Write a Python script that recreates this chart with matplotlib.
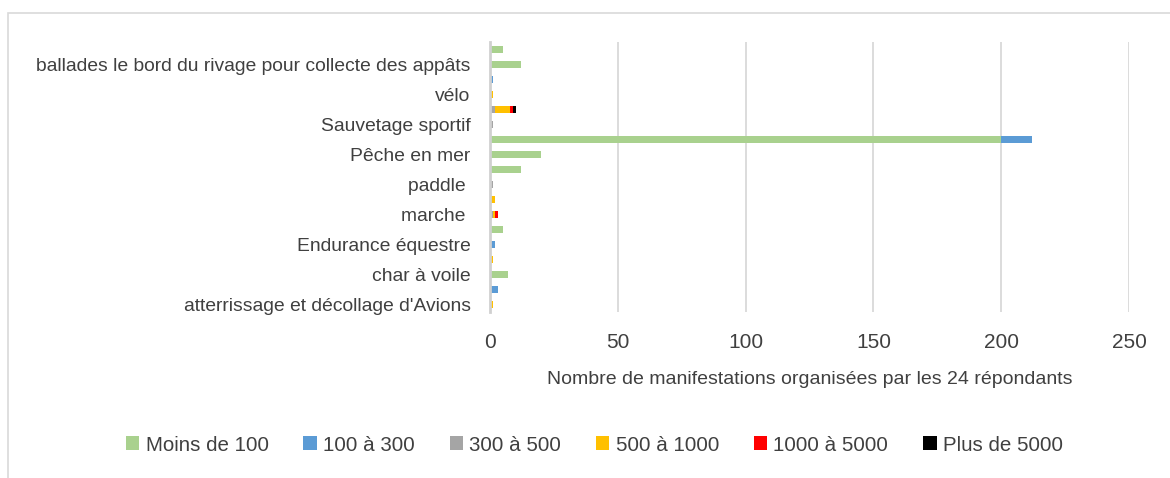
import numpy as np
import matplotlib.pyplot as plt
from matplotlib.patches import Rectangle

# ------------------------------
# Data (bottom to top, as drawn)
# ------------------------------
categories = ["atterrissage et décollage d'Avions", "", "char à voile", "",
              "Endurance équestre", "", "marche ", "", "paddle ", "",
              "Pêche en mer", "", "Sauvetage sportif", "", "vélo", "",
              "ballades le bord du rivage pour collecte des appâts", ""]

series_names = ["Moins de 100", "100 à 300", "300 à 500",
                "500 à 1000", "1000 à 5000", "Plus de 5000"]

moins_100 = [0, 0, 7, 0, 0, 5, 0, 0, 0, 12, 20, 200, 0, 0, 0, 0, 12, 5]
de_100_300 = [0, 3, 0, 0, 2, 0, 0, 0, 0, 0, 0, 12, 0, 0, 0, 1, 0, 0]
de_300_500 = [0, 0, 0, 0, 0, 0, 1, 0, 1, 0, 0, 0, 1, 2, 0, 0, 0, 0]
de_500_1000 = [1, 0, 0, 1, 0, 0, 1, 2, 0, 0, 0, 0, 0, 6, 1, 0, 0, 0]
de_1000_5000 = [0, 0, 0, 0, 0, 0, 1, 0, 0, 0, 0, 0, 0, 1, 0, 0, 0, 0]
plus_5000 = [0, 0, 0, 0, 0, 0, 0, 0, 0, 0, 0, 0, 0, 1, 0, 0, 0, 0]

colors = ["#a9d18e", "#5b9bd5", "#a5a5a5", "#ffc000", "#ff0000", "#000000"]

xticks = [0, 50, 100, 150, 200, 250]

# ------------------------------
# Plot
# ------------------------------
plt.rcParams['font.family'] = ['Liberation Sans', 'DejaVu Sans']

fig = plt.figure(figsize=(11.7, 4.78), dpi=100)
ax = fig.add_axes([0.4188, 0.347, 0.5462, 0.565])

# light chart border
fig.patches.append(Rectangle((0.007, -0.1), 1.2, 1.073, transform=fig.transFigure,
                             fill=False, edgecolor="#d9d9d9", linewidth=1.2))

y = np.arange(len(categories))
left = np.zeros(len(categories))
all_series = [moins_100, de_100_300, de_300_500, de_500_1000, de_1000_5000, plus_5000]
for vals, name, c in zip(all_series, series_names, colors):
    ax.barh(y, vals, left=left, height=0.42, color=c, label=name, zorder=3)
    left += np.array(vals)

ax.set_xlim(0, 250)
ax.set_ylim(-0.5, len(categories) - 0.5)
ax.set_xticks(xticks)
ax.set_yticks(y)
ax.set_yticklabels(categories, fontsize=13.9, color="#404040")
ax.tick_params(axis='x', labelsize=15, length=0, pad=15)
ax.tick_params(axis='y', length=0, pad=14)
for lab in ax.get_xticklabels():
    lab.set_color("#404040")

ax.grid(axis='x', color="#d9d9d9", linewidth=1.3, zorder=0)
for side in ['top', 'right', 'bottom']:
    ax.spines[side].set_visible(False)
ax.spines['left'].set_color("#d0d0d0")
ax.spines['left'].set_linewidth(2)
ax.spines['left'].set_zorder(4)

ax.set_xlabel("Nombre de manifestations organisées par les 24 répondants",
              fontsize=14, color="#404040", labelpad=14)

fig.legend(loc='center', bbox_to_anchor=(0.508, 0.069), ncol=6, frameon=False,
           fontsize=14.8, handlelength=0.65, handleheight=0.65, handletextpad=0.3,
           columnspacing=1.7, labelcolor="#404040")

fig.savefig("out.png", dpi=100)
